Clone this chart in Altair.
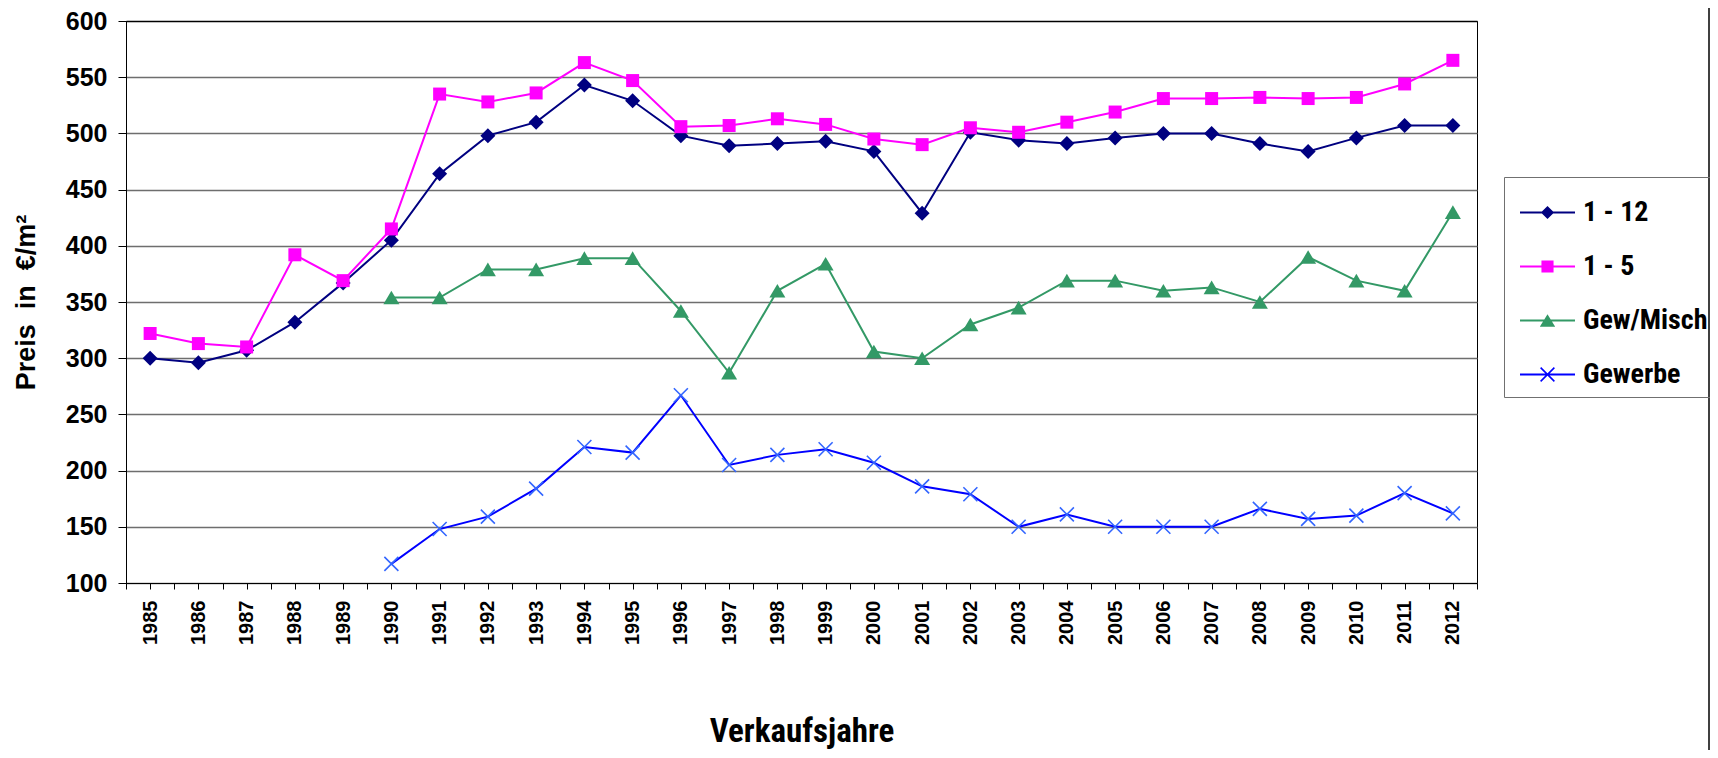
import altair as alt
import pandas as pd

years = list(range(1985, 2013))
s_1_12 = [300, 296, 307, 332, 367, 405, 464, 498, 510, 543, 529, 498, 489, 491,
          493, 484, 429, 501, 494, 491, 496, 500, 500, 491, 484, 496, 507, 507]
s_1_5 = [322, 313, 310, 392, 369, 415, 535, 528, 536, 563, 547, 506, 507, 513,
         508, 495, 490, 505, 501, 510, 519, 531, 531, 532, 531, 532, 544, 565]
years_late = list(range(1990, 2013))
s_gew_misch = [354, 354, 379, 379, 389, 389, 342, 287, 360, 384, 306, 300,
               330, 345, 369, 369, 360, 363, 350, 390, 369, 360, 430]
s_gewerbe = [117, 148, 159, 184, 221, 216, 267, 205, 214, 219, 207, 186,
             179, 150, 161, 150, 150, 150, 166, 157, 160, 180, 162]

series_names = ["\u00a0\u00a01 - 12", "\u00a0\u00a01 - 5", "Gew/Misch", "Gewerbe"]
line_colors = ["#000080", "#FF00FF", "#339966", "#0000FF"]
marker_colors = ["#000080", "#FF00FF", "#339966", "#3366FF"]
marker_shapes = ["M0,-1L1,0L0,1L-1,0Z", "M-1,-1H1V1H-1Z", "M0,-0.85L1,0.85H-1Z", "M-1,-1L1,1M1,-1L-1,1"]
marker_sizes = [225, 169, 256, 196]

# legend symbols: a line segment plus the marker, as one filled path
seg = "M-1,-0.04H1V0.04H-1Z"
legend_paths = [
    seg + "M0,-0.24L0.24,0L0,0.24L-0.24,0Z",
    seg + "M-0.22,-0.22H0.22V0.22H-0.22Z",
    seg + "M0,-0.23L0.28,0.23H-0.28Z",
    seg + "M-0.23,-0.27L0.27,0.23L0.23,0.27L-0.27,-0.23Z"
        + "M0.27,-0.23L-0.23,0.27L-0.27,0.23L0.23,-0.27Z",
]

rows = []
for name, xs, vals in [(series_names[0], years, s_1_12), (series_names[1], years, s_1_5),
                       (series_names[2], years_late, s_gew_misch),
                       (series_names[3], years_late, s_gewerbe)]:
    for yr, v in zip(xs, vals):
        rows.append({"year": yr, "series": name, "value": v})
df = pd.DataFrame(rows)

tick_vals = sorted([yr - 0.5 for yr in years] + years + [years[-1] + 0.5])

NARROW = "Liberation Sans Narrow, Arial Narrow, Roboto Condensed, DejaVu Sans Condensed, Roboto, sans-serif"
ARIAL = "Liberation Sans, Arial, sans-serif"

x_enc = alt.X(
    "year:Q",
    scale=alt.Scale(domain=[years[0] - 0.5, years[-1] + 0.5], nice=False, zero=False),
    axis=alt.Axis(
        values=tick_vals,
        labelExpr="datum.value % 1 == 0 ? datum.value : ''",
        labelAngle=270,
        labelFont=ARIAL, labelFontSize=20, labelFontWeight="bold", labelColor="black",
        labelPadding=11, labelOverlap=False, labelFlush=False,
        tickSize=6, tickColor="black", tickWidth=1,
        domainColor="black", domainWidth=1,
        grid=False,
        title="Verkaufsjahre",
        titleFont=NARROW, titleFontSize=33, titleFontWeight="bold", titleColor="black",
        titleBaseline="alphabetic", titleY=158, titleX=675.5, titleAlign="center",
    ),
)
y_enc = alt.Y(
    "value:Q",
    scale=alt.Scale(domain=[100, 600], nice=False, zero=False),
    axis=alt.Axis(
        values=list(range(100, 601, 50)),
        labelFont=ARIAL, labelFontSize=25, labelFontWeight="bold", labelColor="black",
        labelPadding=11,
        tickSize=8, tickColor="black", tickWidth=1,
        domainColor="black", domainWidth=1,
        grid=True,
        gridColor={"condition": {"test": "datum.value === 600", "value": "black"}, "value": "#6e6e6e"},
        gridWidth=1.3,
        title="Preis\u00a0 in\u00a0 \u20ac/m\u00b2",
        titleFont=ARIAL, titleFontSize=27, titleFontWeight="bold", titleColor="black",
        titleAngle=270, titleBaseline="alphabetic", titleAlign="center",
        titleX=-92, titleY=281,
    ),
)

layers = []
for i, name in enumerate(series_names):
    base = alt.Chart(df).transform_filter(alt.datum.series == name)
    layers.append(base.mark_line(color=line_colors[i], strokeWidth=2).encode(x=x_enc, y=y_enc))
    if i == 3:
        pts = base.mark_point(shape=marker_shapes[i], size=marker_sizes[i], filled=False,
                              color=marker_colors[i], strokeWidth=1.6, opacity=1)
    else:
        pts = base.mark_point(shape=marker_shapes[i], size=marker_sizes[i], filled=True,
                              color=marker_colors[i], strokeWidth=0, opacity=1)
    layers.append(pts.encode(x=x_enc, y=y_enc))

leg = dict(
    title=None, orient="none", legendX=1378, legendY=156,
    strokeColor="#707070", padding=8, symbolOffset=8, labelOffset=8, rowPadding=12,
    gridAlign="all",
    symbolSize=3025, symbolStrokeWidth=0, symbolOpacity=1,
    labelFont=NARROW, labelFontSize=28, labelFontWeight="bold", labelColor="black",
    labelLimit=400,
)
legend_layer = alt.Chart(df).transform_filter("false").mark_point(filled=True, strokeWidth=0).encode(
    x=x_enc, y=y_enc,
    color=alt.Color("series:N", scale=alt.Scale(domain=series_names, range=line_colors),
                    legend=alt.Legend(**leg)),
    shape=alt.Shape("series:N", scale=alt.Scale(domain=series_names, range=legend_paths),
                    legend=alt.Legend(**leg)),
)
layers.append(legend_layer)

border = alt.Chart(pd.DataFrame({"k": [0]})).mark_rule(color="black", strokeWidth=1.5).encode(
    x=alt.value(1583), y=alt.value(-13), y2=alt.value(731)
)
layers.append(border)

chart = alt.layer(*layers).properties(
    width=1351, height=562,
    padding={"left": 118, "top": 13, "right": 233, "bottom": 167},
    autosize=alt.AutoSizeParams(type="none"),
    background="white",
).configure_view(stroke="black", strokeWidth=1)

chart.save("out.html", embed_options={"renderer": "svg", "actions": False})
